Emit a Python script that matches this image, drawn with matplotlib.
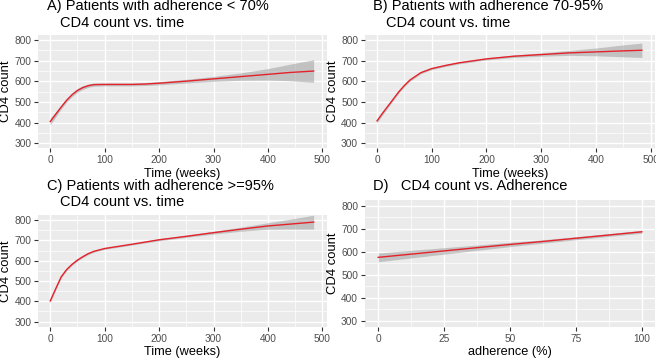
import matplotlib
matplotlib.use("Agg")
import matplotlib.pyplot as plt
import numpy as np

plt.rcParams['font.family'] = ['Liberation Sans', 'DejaVu Sans']

# ---- data ----
A_t = [0, 10, 20, 30, 40, 50, 60, 70, 80, 100, 125, 150, 175, 200, 250, 300, 350, 400, 440, 484]
A_fit = [405, 440, 475, 508, 535, 556, 570, 579, 584, 585, 585, 585, 587, 591, 601, 612, 623, 634, 643, 650]
A_half = [17, 13, 10, 9, 9, 9, 9, 8, 8, 7, 7, 7, 7, 8, 9, 12, 18, 28, 40, 55]

B_t = [0, 10, 20, 30, 40, 50, 60, 80, 100, 125, 150, 200, 250, 300, 350, 400, 440, 484]
B_fit = [408, 445, 480, 515, 550, 580, 606, 642, 662, 677, 690, 709, 722, 730, 738, 743, 747, 751]
B_half = [10, 8, 7, 6, 6, 6, 6, 5, 5, 5, 5, 5, 6, 8, 12, 19, 27, 35]

C_t = [0, 10, 20, 30, 40, 50, 60, 70, 80, 100, 150, 200, 250, 300, 350, 400, 440, 484]
C_fit = [402, 462, 520, 556, 582, 603, 620, 635, 646, 660, 681, 703, 720, 738, 755, 771, 780, 790]
C_half = [8, 6, 5, 5, 5, 5, 5, 5, 4, 4, 4, 5, 5, 7, 10, 16, 24, 34]

D_x = [0, 12.5, 25, 37.5, 50, 62.5, 75, 87.5, 100]
D_fit = [576, 590, 604, 618, 632, 645, 659, 673, 687]
D_half = [19, 16.5, 14, 11.5, 9.5, 7.5, 6.5, 6, 6.5]

titles = [
    ("A) Patients with adherence < 70%", "CD4 count vs. time"),
    ("B) Patients with adherence 70-95%", "CD4 count vs. time"),
    ("C) Patients with adherence >=95%", "CD4 count vs. time"),
    ("D)   CD4 count vs. Adherence", None),
]
xlabels = ["Time (weeks)", "Time (weeks)", "Time (weeks)", "adherence (%)"]
ylabel = "CD4 count"
y_ticks = [300, 400, 500, 600, 700, 800]
time_ticks = [0, 100, 200, 300, 400, 500]
adh_ticks = [0, 25, 50, 75, 100]

W, H = 656, 360
fig = plt.figure(figsize=(W / 100, H / 100), dpi=100)

def frac(l, t, r, b):
    return [l / W, 1 - b / H, (r - l) / W, (b - t) / H]

rects = [frac(38.3, 35, 326.7, 148.3), frac(365, 35, 655, 148.3),
         frac(38.3, 215, 326.7, 326.7), frac(365, 200, 655, 326.7)]

series = [(A_t, A_fit, A_half), (B_t, B_fit, B_half), (C_t, C_fit, C_half), (D_x, D_fit, D_half)]

BG = '#EBEBEB'
TICKC = '#4D4D4D'
for i, (rect, (x, y, h)) in enumerate(zip(rects, series)):
    ax = fig.add_axes(rect)
    ax.set_facecolor(BG)
    for s in ax.spines.values():
        s.set_visible(False)
    x = np.asarray(x, float); y = np.asarray(y, float); h = np.asarray(h, float)
    ax.fill_between(x, y - h, y + h, color='#999999', alpha=0.5, lw=0, zorder=2)
    ax.plot(x, y, color='#E4222B', lw=1.0, zorder=3)
    ax.set_ylim(275, 825)
    ax.set_yticks(y_ticks)
    ax.set_yticks([350, 450, 550, 650, 750], minor=True)
    if i < 3:
        ax.set_xlim(-22, 508)
        ax.set_xticks(time_ticks)
        ax.set_xticks([50, 150, 250, 350, 450], minor=True)
    else:
        ax.set_xlim(-5, 105)
        ax.set_xticks(adh_ticks)
        ax.set_xticks([12.5, 37.5, 62.5, 87.5], minor=True)
    ax.grid(which='major', color='white', lw=1.0, zorder=1)
    ax.grid(which='minor', color='white', lw=0.5, zorder=1)
    ax.set_axisbelow(True)
    ax.tick_params(which='major', length=3, width=0.8, color='#333333',
                   labelsize=7.3, labelcolor=TICKC, pad=2)
    ax.tick_params(which='minor', length=0)
    ax.set_ylabel(ylabel, fontsize=9.4, color='black', labelpad=1.5)
    ax.set_xlabel(xlabels[i], fontsize=9.2, color='black', labelpad=2)

# titles
fs_t = 10.5
fig.text(46.7 / W, 1 - 10 / H, titles[0][0], fontsize=fs_t, va='baseline', ha='left')
fig.text(60 / W, 1 - 26.7 / H, titles[0][1], fontsize=fs_t, va='baseline', ha='left')
fig.text(372.7 / W, 1 - 10 / H, titles[1][0], fontsize=fs_t, va='baseline', ha='left')
fig.text(386 / W, 1 - 26.7 / H, titles[1][1], fontsize=fs_t, va='baseline', ha='left')
fig.text(46.7 / W, 1 - 190 / H, titles[2][0], fontsize=fs_t, va='baseline', ha='left')
fig.text(60 / W, 1 - 206 / H, titles[2][1], fontsize=fs_t, va='baseline', ha='left')
fig.text(372.7 / W, 1 - 190 / H, titles[3][0], fontsize=fs_t, va='baseline', ha='left')

fig.savefig('out.png', dpi=100, facecolor='white')
